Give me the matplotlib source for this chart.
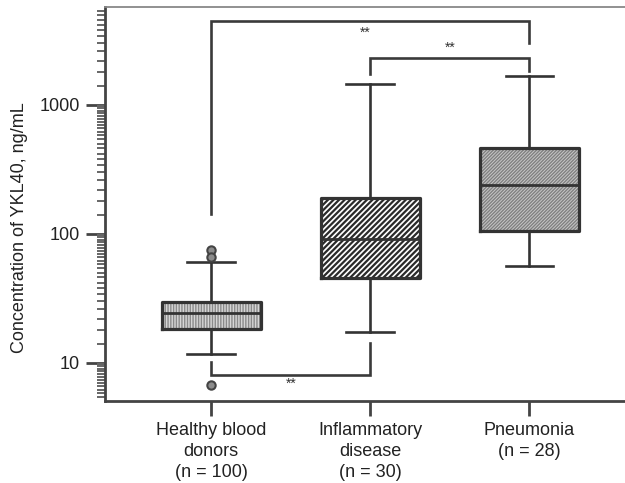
import numpy as np
import matplotlib
matplotlib.use('Agg')
import matplotlib.pyplot as plt
from matplotlib.ticker import LogLocator, FixedLocator, NullFormatter

plt.rcParams['font.family'] = ['Liberation Sans', 'DejaVu Sans']
plt.rcParams['hatch.linewidth'] = 1.0

groups = ['Healthy blood\ndonors\n(n = 100)', 'Inflammatory\ndisease\n(n = 30)', 'Pneumonia\n(n = 28)']
q1 = [18.4, 45.6, 105]
med = [24.4, 91, 240]
q3 = [29.7, 190, 464]
whislo = [11.7, 17.4, 56.5]
whishi = [60.7, 1455, 1678]
fliers = [[75, 66, 6.8], [], []]

# significance brackets: (x left, x right), bar height, (left end, right end)
br_x = [(1, 3), (2, 3), (1, 2)]
br_y = [4480, 2310, 8.07]
br_ends = [(143, 3020), (1740, 1836), (10.2, 14.3)]
star_x = [1.97, 2.5, 1.5]
star_y = [3650, 2800, 6.9]

hatches = ['||||||', '//////', '//////////']
faces = ['#d6d6d6', '#ffffff', '#c8c8c8']
hcols = ['#8a8a8a', '#2a2a2a', '#808080']
hlw = [1.0, 1.6, 1.0]

dark = '#333333'

stats = []
for i in range(3):
    stats.append(dict(med=med[i], q1=q1[i], q3=q3[i], whislo=whislo[i],
                      whishi=whishi[i], fliers=fliers[i]))

fig = plt.figure(figsize=(6.25, 4.83), dpi=100)
ax = fig.add_axes([0.168, 0.1698, 0.832, 0.8157])
ax.set_yscale('log')

pos = [1, 2, 3]
# fill + hatch pass
bp = ax.bxp(stats, positions=pos, widths=0.62, patch_artist=True,
            showcaps=False, showfliers=False,
            whiskerprops=dict(visible=False), medianprops=dict(visible=False),
            boxprops=dict(linewidth=0))
for b, h, fc, hc, lw in zip(bp['boxes'], hatches, faces, hcols, hlw):
    b.set_facecolor(fc)
    b.set_edgecolor(hc)
    b.set_hatch(h)
    if hasattr(b, 'set_hatch_linewidth'):
        b.set_hatch_linewidth(lw)

# outline pass
ax.bxp(stats, positions=pos, widths=0.62, capwidths=0.3,
       boxprops=dict(color=dark, linewidth=2.3),
       whiskerprops=dict(color=dark, linewidth=1.9),
       capprops=dict(color=dark, linewidth=1.9),
       medianprops=dict(color=dark, linewidth=2.0),
       flierprops=dict(marker='o', markersize=6, markerfacecolor='#8c8c8c',
                       markeredgecolor='#444444', markeredgewidth=1.5))

for (xa, xb), yb, (ya, yc) in zip(br_x, br_y, br_ends):
    ax.plot([xa, xa, xb, xb], [ya, yb, yb, yc], color='#3a3a3a', lw=1.9,
            solid_joinstyle='miter')
for sx, sy in zip(star_x, star_y):
    ax.text(sx, sy, '**', ha='center', va='center', fontsize=10, color='#333333')

ax.set_xlim(0.333, 3.6)
ax.set_ylim(5.07, 5750)

ax.yaxis.set_major_locator(FixedLocator([10, 100, 1000]))
ax.set_yticklabels(['10', '100', '1000'])
ax.yaxis.set_minor_locator(LogLocator(base=10, subs=np.arange(1.4, 10, 0.4), numticks=100))
ax.yaxis.set_minor_formatter(NullFormatter())
ax.tick_params(axis='y', which='major', length=14, width=2, color='#444444',
               labelsize=13, pad=4, labelcolor='#222222')
ax.tick_params(axis='y', which='minor', length=6, width=1.4, color='#666666')

ax.set_xticks(pos)
ax.set_xticklabels(groups, linespacing=1.32)
ax.tick_params(axis='x', length=11, width=2, color='#444444', labelsize=13,
               pad=4, labelcolor='#222222')

ax.set_ylabel('Concentration of YKL40, ng/mL', fontsize=13, color='#222222')
ax.yaxis.set_label_coords(-0.148, 0.44)

ax.spines['right'].set_visible(False)
ax.spines['left'].set_linewidth(2)
ax.spines['left'].set_color('#444444')
ax.spines['bottom'].set_linewidth(2)
ax.spines['bottom'].set_color('#444444')
ax.spines['top'].set_linewidth(1.3)
ax.spines['top'].set_color('#888888')

fig.savefig('out.png', dpi=100)
